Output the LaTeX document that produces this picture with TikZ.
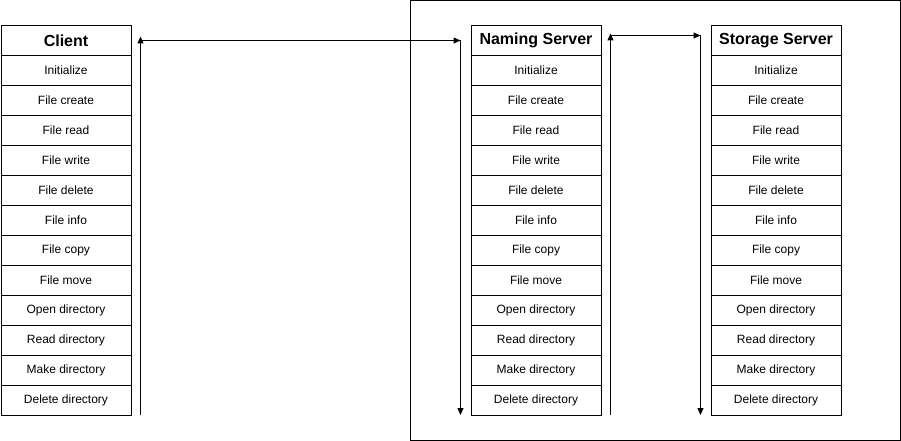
\documentclass[tikz,border=0pt]{standalone}
\usepackage{fontspec}
\setmainfont{Liberation Sans}
\usetikzlibrary{arrows.meta}
\usetikzlibrary{calc}

\tikzset{
  cell/.style={draw, line width=1pt, minimum width=130pt, minimum height=30pt,
    inner sep=0pt, anchor=north west, font=\fontsize{12}{14}\selectfont},
  head/.style={cell, font=\fontsize{16}{19}\selectfont\bfseries},
  flow/.style={line width=1pt, -{Triangle[length=7pt,width=6pt]}}
}

% one column of operations: #1 name, #2 left x, #3 title
\newcommand{\opcolumn}[3]{%
  \node[head] (#1-0) at (#2,25) {#3};
  \foreach \op [count=\i] in {Initialize, File create, File read, File write,
      File delete, File info, File copy, File move, Open directory,
      Read directory, Make directory, Delete directory} {
    \node[cell] (#1-\i) at (#2,{25+30*\i}) {\op};
  }%
}

\begin{document}
\begin{tikzpicture}[x=1pt, y=-1pt]
            \useasboundingbox (0,0) rectangle (901,441);
            \draw[line width=1pt] (410.5,0.5) rectangle (900.5,440.5);

            \opcolumn{client}{0.5}{Client}
            \opcolumn{naming}{470.5}{Naming Server}
            \opcolumn{storage}{710.5}{Storage Server}

            \coordinate (cbot) at (140.5,415);
            \coordinate (ctop) at (140.5,40.5);
            \coordinate (ntop) at (460.5,40.5);
            \coordinate (nbot) at (460.5,415);
            \coordinate (mbot) at (610.5,415);
            \coordinate (mtop) at (610.5,35.5);
            \coordinate (stop) at (700.5,35.5);
            \coordinate (sbot) at (700.5,415);

            \draw[flow] (cbot) -- ($(ctop)+(0,-4)$);
            \draw[flow] (ctop) -- (ntop);
            \draw[flow] (ntop) -- (nbot);
            \draw[flow] (mbot) -- ($(mtop)+(0,-2)$);
            \draw[flow] (mtop) -- (stop);
            \draw[flow] (stop) -- (sbot);
        \end{tikzpicture}
\end{document}
